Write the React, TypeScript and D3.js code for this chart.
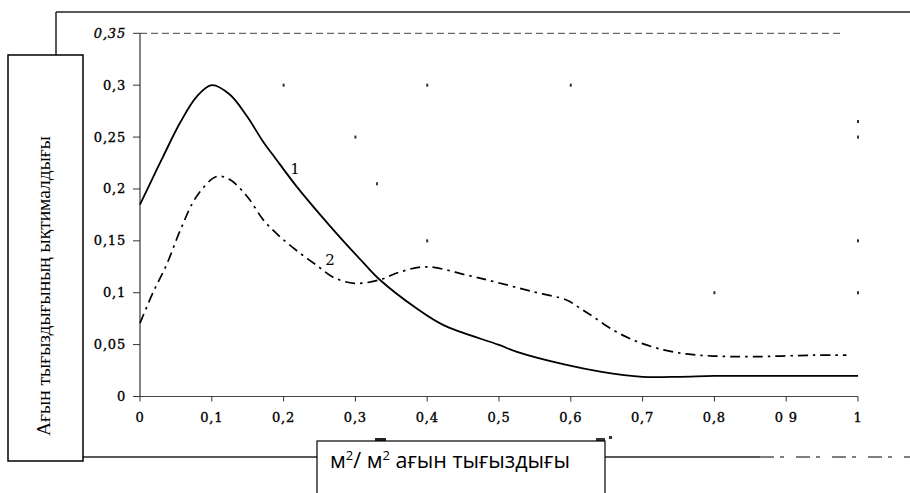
import React from "react";
import * as d3 from "d3";

const yTicks = [0, 0.05, 0.1, 0.15, 0.2, 0.25, 0.3, 0.35];
const yTickLabels = ["0", "0,05", "0,1", "0,15", "0,2", "0,25", "0,3", "0,35"];
const xTicks = [0, 0.1, 0.2, 0.3, 0.4, 0.5, 0.6, 0.7, 0.8, 0.9, 1];
const xTickLabels = ["0", "0,1", "0,2", "0,3", "0,4", "0,5", "0,6", "0,7", "0,8", "0 9", "1"];

const curve1X = [0, 0.009, 0.032, 0.056, 0.079, 0.1, 0.125, 0.149, 0.172, 0.186, 0.218, 0.265, 0.311, 0.334, 0.385, 0.422, 0.5, 0.525, 0.594, 0.641, 0.7, 0.752, 0.8, 0.9, 1.0];
const curve1Y = [0.185, 0.198, 0.231, 0.264, 0.289, 0.3, 0.291, 0.27, 0.245, 0.232, 0.2025, 0.164, 0.129, 0.1125, 0.085, 0.069, 0.0497, 0.043, 0.0304, 0.024, 0.019, 0.019, 0.0198, 0.0198, 0.0198];

const curve2X = [0, 0.018, 0.037, 0.056, 0.079, 0.107, 0.125, 0.149, 0.172, 0.195, 0.223, 0.245, 0.269, 0.299, 0.334, 0.362, 0.399, 0.455, 0.497, 0.547, 0.594, 0.613, 0.631, 0.659, 0.692, 0.729, 0.761, 0.798, 0.854, 0.938, 0.984];
const curve2Y = [0.0707, 0.1, 0.127, 0.16, 0.193, 0.212, 0.209, 0.193, 0.17, 0.154, 0.138, 0.127, 0.115, 0.109, 0.1125, 0.12, 0.125, 0.117, 0.11, 0.101, 0.093, 0.085, 0.077, 0.064, 0.053, 0.045, 0.041, 0.039, 0.0384, 0.0398, 0.0398];

const speckX = [0.2, 0.4, 0.6, 0.3, 1, 1, 0.33, 0.4, 1, 0.8, 1];
const speckY = [0.3, 0.3, 0.3, 0.25, 0.265, 0.25, 0.205, 0.15, 0.15, 0.1, 0.1];

const yTitle = "Ағын тығыздығының ықтималдығы";

export default function App() {
  const x = d3.scaleLinear().domain([0, 1]).range([140, 858]);
  const y = d3.scaleLinear().domain([0, 0.35]).range([396.5, 33.3]);
  const line = d3
    .line<[number, number]>()
    .x((d) => x(d[0]))
    .y((d) => y(d[1]))
    .curve(d3.curveCatmullRom.alpha(0.5));
  const c1 = curve1X.map((v, i) => [v, curve1Y[i]] as [number, number]);
  const c2 = curve2X.map((v, i) => [v, curve2Y[i]] as [number, number]);
  const tickFont = "'DejaVu Serif', serif";

  return (
    <svg
      width={910}
      height={493}
      style={{ position: "absolute", left: 0, top: 0, background: "#fff" }}
    >
      <rect x={0} y={0} width={910} height={493} fill="#fff" />
      {/* frame */}
      <line x1={56} y1={12} x2={910} y2={12} stroke="#222" strokeWidth={1.5} />
      <line x1={56} y1={12} x2={56} y2={55} stroke="#222" strokeWidth={1.5} />
      <line x1={83} y1={457} x2={760} y2={457} stroke="#222" strokeWidth={1.3} />
      <line x1={760} y1={457} x2={910} y2={457} stroke="#555" strokeWidth={1.3} strokeDasharray="14,6,4,12" />

      {/* top dashed line at 0.35 */}
      <line x1={x(0)} y1={y(0.35)} x2={x(0.98)} y2={y(0.35)} stroke="#444" strokeWidth={1} strokeDasharray="7,4" />

      {/* axes */}
      <line x1={x(0)} y1={y(0)} x2={x(0)} y2={y(0.35)} stroke="#333" strokeWidth={1.2} />
      <line x1={x(0)} y1={y(0)} x2={x(1)} y2={y(0)} stroke="#444" strokeWidth={1.2} />
      {yTicks.map((t, i) => (
        <g key={"y" + i}>
          <line x1={x(0) - 7} x2={x(0)} y1={y(t)} y2={y(t)} stroke="#333" strokeWidth={1} />
          <text
            x={126}
            y={y(t) + 4.5}
            textAnchor="end"
            fontFamily={tickFont}
            fontSize={13}
            letterSpacing={0.8}
            fontStyle={i === yTicks.length - 1 ? "italic" : "normal"}
            fill="#000"
            stroke="#000"
            strokeWidth={0.35}
          >
            {yTickLabels[i]}
          </text>
        </g>
      ))}
      {xTicks.map((t, i) => (
        <g key={"x" + i}>
          <line x1={x(t)} x2={x(t)} y1={y(0)} y2={y(0) + 5} stroke="#333" strokeWidth={1} />
          <text
            x={x(t)}
            y={422}
            textAnchor="middle"
            fontFamily={tickFont}
            fontSize={13}
            letterSpacing={0.8}
            fill="#000"
            stroke="#000"
            strokeWidth={0.35}
          >
            {xTickLabels[i]}
          </text>
        </g>
      ))}

      {/* specks */}
      {speckX.map((v, i) => (
        <rect key={"s" + i} x={x(v) - 1} y={y(speckY[i]) - 1.5} width={2} height={3} fill="#333" />
      ))}

      {/* curves */}
      <path d={line(c1) || ""} fill="none" stroke="#000" strokeWidth={1.8} />
      <path d={line(c2) || ""} fill="none" stroke="#000" strokeWidth={1.7} strokeDasharray="10,5,2.5,5" />
      <text x={295} y={174} textAnchor="middle" fontFamily={tickFont} fontSize={15} fill="#000">1</text>
      <text x={330} y={265} textAnchor="middle" fontFamily={tickFont} fontSize={15} fill="#000">2</text>

      {/* fragments of a hidden original title above the x label box */}
      <rect x={375} y={438} width={11} height={3.5} fill="#222" />
      <rect x={596} y={438} width={9} height={3} fill="#333" />
      <rect x={609} y={436} width={3} height={3} fill="#333" />

      {/* y label box */}
      <rect x={8} y={55} width={75} height={406} fill="#fff" stroke="#000" strokeWidth={1.5} />
      <text
        transform="translate(50,286) rotate(-90)"
        textAnchor="middle"
        fontFamily="'Liberation Serif', 'Times New Roman', serif"
        fontSize={19.5}
        fill="#000"
      >
        {yTitle}
      </text>

      {/* x label box */}
      <rect x={317} y={441} width={288} height={60} fill="#fff" stroke="#000" strokeWidth={1.2} />
      <text x={330} y={468} fontFamily="'Open Sans', sans-serif" fontSize={21.5} fill="#000">
        м<tspan dy={-8} fontSize={13}>2</tspan>
        <tspan dy={8}>/ м</tspan>
        <tspan dy={-8} fontSize={13}>2</tspan>
        <tspan dy={8}> ағын тығыздығы</tspan>
      </text>
    </svg>
  );
}
